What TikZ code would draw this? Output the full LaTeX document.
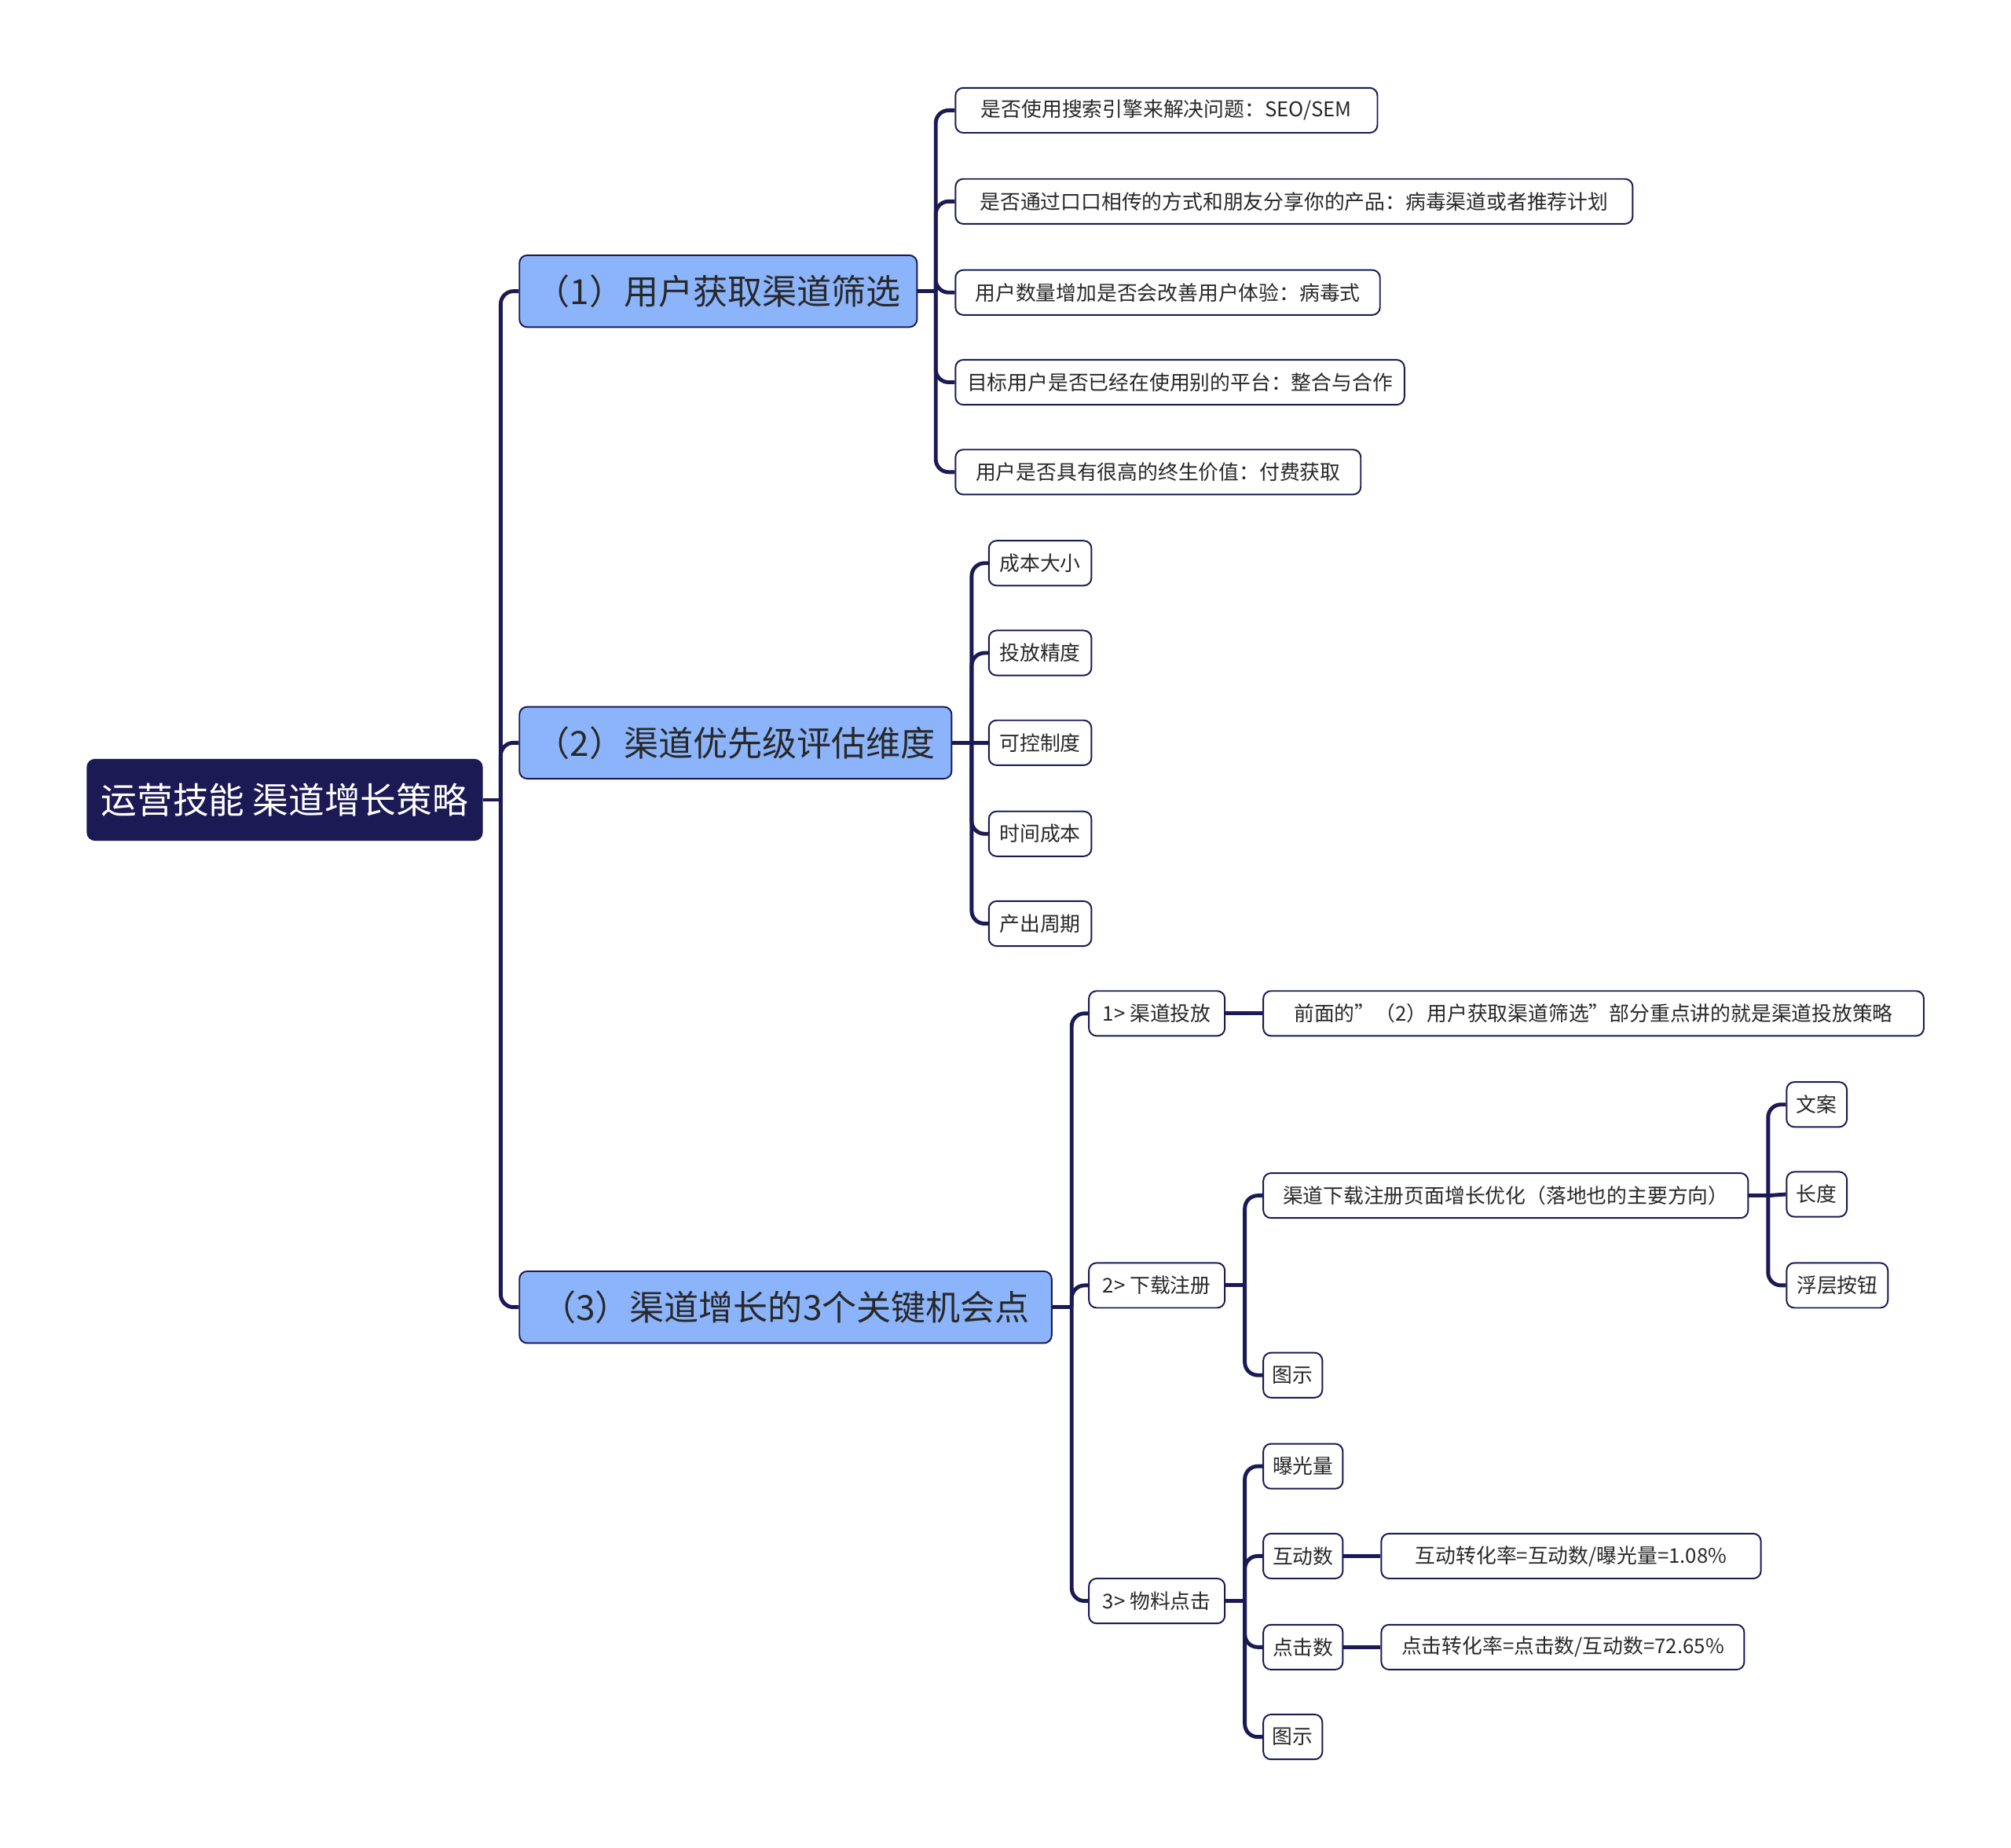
\documentclass[tikz,border=0pt]{standalone}
\usepackage{fontspec}
\setmainfont{Noto Sans CJK SC}
\usepackage{tikz}
\definecolor{navy}{RGB}{27,26,85}
\definecolor{skyfill}{RGB}{140,180,250}
\definecolor{inkgray}{RGB}{40,40,40}

\begin{document}
\begin{tikzpicture}[x=0.5pt,y=0.5pt,yscale=-1,xscale=1,
  conn/.style={draw=navy, line width=1.5pt, rounded corners=5pt},
  rootbox/.style={draw=navy, fill=navy, rounded corners=3pt, text=white, inner sep=0pt, minimum height=31.5pt, font=\fontsize{14}{16}\selectfont},
  topicbox/.style={draw=navy, line width=0.6pt, fill=skyfill, rounded corners=3pt, text=inkgray, inner sep=0pt, minimum height=28pt, font=\fontsize{13.5}{15}\selectfont},
  leafbox/.style={draw=navy, line width=0.6pt, fill=white, rounded corners=3pt, text=inkgray, inner sep=0pt, minimum height=17.5pt, font=\fontsize{7.9}{9}\selectfont}]
\useasboundingbox (0,0) rectangle (1568,1440);

% Text Node
\node [rootbox, minimum width=154pt] (root) at (222,623.5) {运营技能 渠道增长策略};
% Text Node
\node [topicbox, minimum width=155pt] (sel) at (560,227) {（1）用户获取渠道筛选};
% Text Node
\node [topicbox, minimum width=168.5pt] (prio) at (573.5,579) {（2）渠道优先级评估维度};
% Text Node
\node [topicbox, minimum width=207.5pt] (grow) at (612.5,1019) {（3）渠道增长的3个关键机会点};

% Text Node
\node [leafbox, minimum width=164.5pt] (sela) at (909.5,86) {是否使用搜索引擎来解决问题：SEO/SEM};
% Text Node
\node [leafbox, minimum width=264pt] (selb) at (1009,157) {是否通过口口相传的方式和朋友分享你的产品：病毒渠道或者推荐计划};
% Text Node
\node [leafbox, minimum width=165.5pt] (selc) at (910.5,228) {用户数量增加是否会改善用户体验：病毒式};
% Text Node
\node [leafbox, minimum width=175pt] (seld) at (920,298) {目标用户是否已经在使用别的平台：整合与合作};
% Text Node
\node [leafbox, minimum width=158pt] (sele) at (903,368) {用户是否具有很高的终生价值：付费获取};

% Text Node
\node [leafbox, minimum width=40pt] (prioa) at (811,439) {成本大小};
% Text Node
\node [leafbox, minimum width=40pt] (priob) at (811,509) {投放精度};
% Text Node
\node [leafbox, minimum width=40pt] (prioc) at (811,579) {可控制度};
% Text Node
\node [leafbox, minimum width=40pt] (priod) at (811,650) {时间成本};
% Text Node
\node [leafbox, minimum width=40pt] (prioe) at (811,720) {产出周期};

% Text Node
\node [leafbox, minimum width=53pt] (put) at (902,790) {1> 渠道投放};
% Text Node
\node [leafbox, minimum width=53pt] (reg) at (902,1002) {2> 下载注册};
% Text Node
\node [leafbox, minimum width=53pt] (clk) at (902,1248) {3> 物料点击};

% Text Node
\node [leafbox, minimum width=257.5pt] (putnote) at (1242.5,790) {前面的”（2）用户获取渠道筛选”部分重点讲的就是渠道投放策略};
% Text Node
\node [leafbox, minimum width=189pt] (regpage) at (1174,932) {渠道下载注册页面增长优化（落地也的主要方向）};
% Text Node
\node [leafbox, minimum width=23pt] (regfig) at (1008,1072) {图示};
% Text Node
\node [leafbox, minimum width=23.5pt] (copy) at (1416.5,861) {文案};
% Text Node
\node [leafbox, minimum width=23.5pt] (len) at (1416.5,931) {长度};
% Text Node
\node [leafbox, minimum width=39.5pt] (float) at (1432.5,1002) {浮层按钮};

% Text Node
\node [leafbox, minimum width=31pt] (expo) at (1016,1143) {曝光量};
% Text Node
\node [leafbox, minimum width=31pt] (inter) at (1016,1213) {互动数};
% Text Node
\node [leafbox, minimum width=31pt] (hits) at (1016,1284) {点击数};
% Text Node
\node [leafbox, minimum width=23pt] (clkfig) at (1008,1354) {图示};
% Text Node
\node [leafbox, minimum width=148pt] (interrate) at (1225,1213) {互动转化率=互动数/曝光量=1.08\%};
% Text Node
\node [leafbox, minimum width=141.5pt] (hitrate) at (1218.5,1284) {点击转化率=点击数/互动数=72.65\%};

%Straight Lines
\draw [conn] (root.east) -- ++(14,0) coordinate (jroot);
\draw [conn] (jroot) |- (sel.west);
\draw [conn] (jroot) |- (prio.west);
\draw [conn] (jroot) |- (grow.west);
%Straight Lines
\draw [conn] (sel.east) -- ++(14,0) coordinate (jsel);
\draw [conn] (jsel) |- (sela.west);
\draw [conn] (jsel) |- (selb.west);
\draw [conn] (jsel) |- (selc.west);
\draw [conn] (jsel) |- (seld.west);
\draw [conn] (jsel) |- (sele.west);
%Straight Lines
\draw [conn] (prio.east) -- ++(15,0) coordinate (jprio);
\draw [conn] (jprio) |- (prioa.west);
\draw [conn] (jprio) |- (priob.west);
\draw [conn] (jprio) -- (prioc.west);
\draw [conn] (jprio) |- (priod.west);
\draw [conn] (jprio) |- (prioe.west);
%Straight Lines
\draw [conn] (grow.east) -- ++(15,0) coordinate (jgrow);
\draw [conn] (jgrow) |- (put.west);
\draw [conn] (jgrow) |- (reg.west);
\draw [conn] (jgrow) |- (clk.west);
%Straight Lines
\draw [conn] (put.east) -- (putnote.west);
\draw [conn] (reg.east) -- ++(15,0) coordinate (jreg);
\draw [conn] (jreg) |- (regpage.west);
\draw [conn] (jreg) |- (regfig.west);
\draw [conn] (regpage.east) -- ++(15,0) coordinate (jpage);
\draw [conn] (jpage) |- (copy.west);
\draw [conn] (jpage) -- (len.west);
\draw [conn] (jpage) |- (float.west);
%Straight Lines
\draw [conn] (clk.east) -- ++(15,0) coordinate (jclk);
\draw [conn] (jclk) |- (expo.west);
\draw [conn] (jclk) |- (inter.west);
\draw [conn] (jclk) |- (hits.west);
\draw [conn] (jclk) |- (clkfig.west);
\draw [conn] (inter.east) -- (interrate.west);
\draw [conn] (hits.east) -- (hitrate.west);

\end{tikzpicture}
\end{document}
